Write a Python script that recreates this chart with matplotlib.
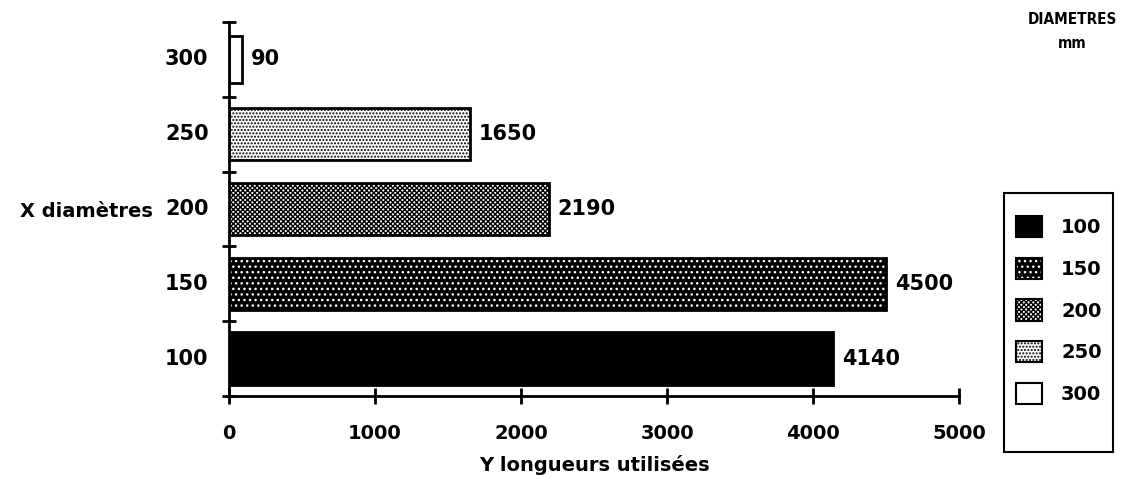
import matplotlib.pyplot as plt
from matplotlib.patches import Patch, Rectangle

diametres = ['100', '150', '200', '250', '300']
longueurs = [4140, 4500, 2190, 1650, 90]
x_ticks = [0, 1000, 2000, 3000, 4000, 5000]

# fill, hatch colour, hatch pattern for each diameter
faces = ['black', 'black', 'white', 'white', 'white']
hatch_cols = ['black', 'white', 'black', 'black', 'white']
hatches = ['', '...', 'xxxxxxx', '.....', '']

plt.rcParams['font.family'] = 'DejaVu Sans'
plt.rcParams['font.weight'] = 'bold'
plt.rcParams['hatch.linewidth'] = 1.0

fig = plt.figure(figsize=(11.23, 4.86), dpi=100)
ax = fig.add_axes([0.204, 0.185, 0.650, 0.770])

ypos = range(len(diametres))
for i, (d, v) in enumerate(zip(diametres, longueurs)):
    h = 0.63 if d == '300' else 0.7
    ax.barh(i, v, height=h, color=faces[i], edgecolor=hatch_cols[i],
            hatch=hatches[i], linewidth=0)
    ax.barh(i, v, height=h, color='none', edgecolor='black', linewidth=2)
    ax.text(v + 60, i, str(v), va='center', ha='left', fontsize=15)

ax.set_xlim(0, 5000)
ax.set_ylim(-0.5, len(diametres) - 0.5)
ax.set_xticks(x_ticks)
ax.set_xticklabels([str(t) for t in x_ticks], fontsize=14)
ax.set_yticks([i - 0.5 for i in ypos] + [len(diametres) - 0.5])
ax.set_yticklabels([])
for i, d in enumerate(diametres):
    ax.text(-290, i, d, ha='center', va='center', fontsize=15)

ax.tick_params(axis='x', direction='inout', length=12, width=2, pad=14)
ax.tick_params(axis='y', direction='inout', length=10, width=2)
for s in ['top', 'right']:
    ax.spines[s].set_visible(False)
for s in ['left', 'bottom']:
    ax.spines[s].set_linewidth(2)

ax.set_xlabel('Y longueurs utilisées', fontsize=14, fontweight='bold',
              labelpad=9)
fig.text(0.018, 0.565, 'X diamètres', fontsize=14, ha='left', va='center')
fig.text(0.955, 0.935, 'DIAMETRES\nmm', fontsize=11, ha='center', va='center',
         linespacing=1.8, fontstretch='condensed')

handles = []
for i in ypos:
    handles.append((Patch(facecolor=faces[i], edgecolor=hatch_cols[i],
                          hatch=hatches[i], linewidth=0),
                    Patch(facecolor='none', edgecolor='black', linewidth=1.5)))
fig.legend(handles, diametres, loc='upper left',
           bbox_to_anchor=(0.905, 0.555), fontsize=14,
           handlelength=1.3, handleheight=1.3, labelspacing=1.05,
           handletextpad=1.0, borderpad=0, borderaxespad=0,
           frameon=False)
fig.patches.append(Rectangle((0.894, 0.070), 0.097, 0.533,
                             transform=fig.transFigure, fill=False,
                             edgecolor='black', linewidth=1.5))

fig.savefig('out.png', dpi=100)
